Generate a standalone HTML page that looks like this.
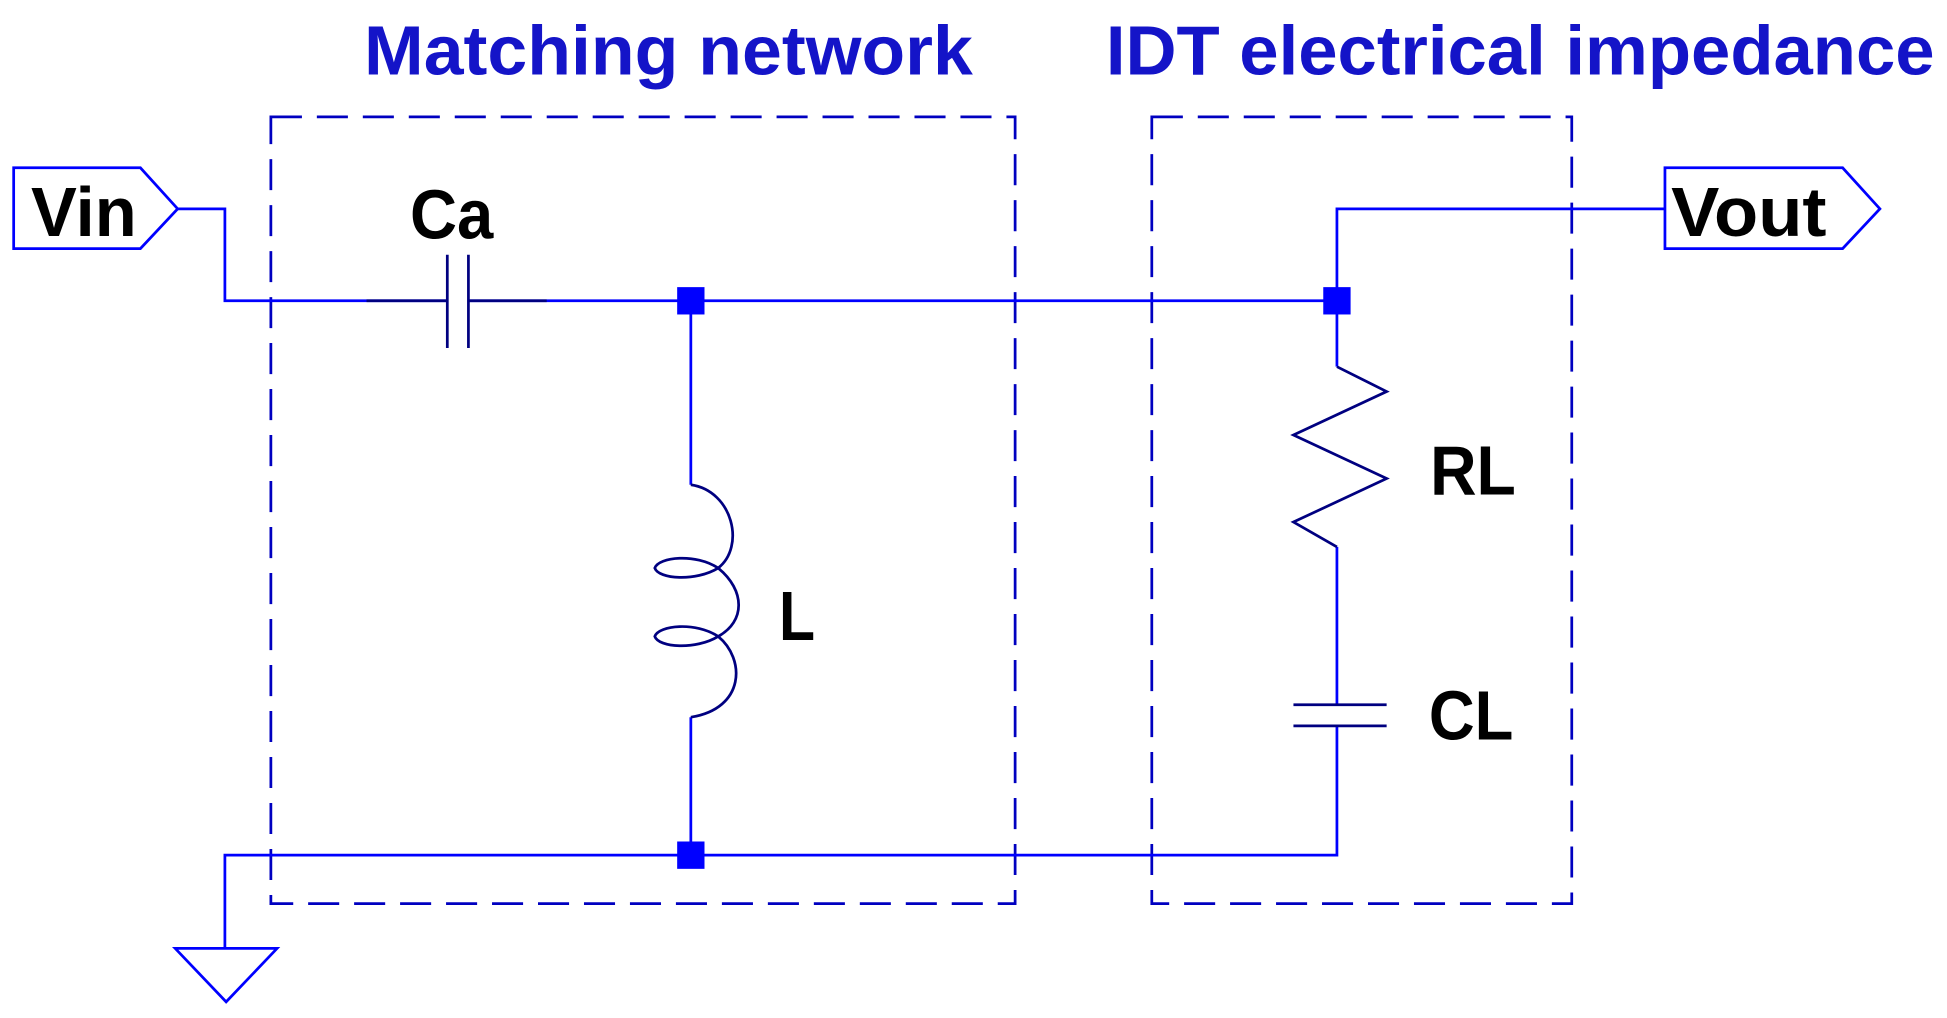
<!DOCTYPE html>
<html><head><style>
html,body{margin:0;padding:0;background:#fff;}
svg{display:block;}
text{font-family:"Liberation Sans",sans-serif;font-weight:bold;}
</style></head><body>
<svg width="1947" height="1018" viewBox="0 0 1567 819" preserveAspectRatio="none" xmlns="http://www.w3.org/2000/svg">
<text x="293" y="60" font-size="56" fill="#1414c8" textLength="490" lengthAdjust="spacingAndGlyphs">Matching network</text>
<text x="890" y="60" font-size="56" fill="#1414c8" textLength="667" lengthAdjust="spacingAndGlyphs">IDT electrical impedance</text>
<g fill="none" stroke="#0000c0" stroke-width="2.2" stroke-dasharray="25,12">
<rect x="218" y="94" width="599" height="633"/>
<rect x="927" y="94" width="338" height="633"/>
</g>
<g fill="none" stroke="#0000ff" stroke-width="2.2">
<polygon points="11,135 113,135 143,168 113,200 11,200"/>
<polygon points="1340,135 1483,135 1513,168 1483,200 1340,200"/>
<polyline points="143,168 181,168 181,242 360,242"/>
<line x1="377" y1="242" x2="1076" y2="242"/>
<polyline points="1076,242 1076,168 1340,168"/>
<line x1="556" y1="242" x2="556" y2="390"/>
<line x1="556" y1="577" x2="556" y2="688"/>
<line x1="1076" y1="242" x2="1076" y2="295"/>
<line x1="1076" y1="440" x2="1076" y2="567"/>
<polyline points="1076,584 1076,688 181,688 181,763"/>
<polygon points="141,763 223,763 182,806"/>
</g>
<g fill="none" stroke="#000080" stroke-width="2.2">
<line x1="360" y1="205" x2="360" y2="280"/>
<line x1="377" y1="205" x2="377" y2="280"/>
<line x1="295" y1="242" x2="360" y2="242"/>
<line x1="377" y1="242" x2="440" y2="242"/>
<path d="M556,390 C590,395 600,440 578,457 C600,475 600,500 578,512 C600,530 600,570 556,577"/>
<path d="M578,457 C560,445 530,448 527,457 C530,466 560,468 578,457 Z"/>
<path d="M578,512 C560,500 530,503 527,512 C530,521 560,523 578,512 Z"/>
<polyline points="1076,295 1116,315 1041,350 1116,385 1041,420 1076,440"/>
<line x1="1041" y1="567" x2="1116" y2="567"/>
<line x1="1041" y1="584" x2="1116" y2="584"/>
</g>
<g fill="#0000ff">
<rect x="545" y="231" width="22" height="22"/>
<rect x="1065" y="231" width="22" height="22"/>
<rect x="545" y="677" width="22" height="22"/>
</g>
<g fill="#000" font-size="56">
<text x="25" y="190" textLength="85" lengthAdjust="spacingAndGlyphs">Vin</text>
<text x="1345" y="190" textLength="125" lengthAdjust="spacingAndGlyphs">Vout</text>
<text x="330" y="192" textLength="67" lengthAdjust="spacingAndGlyphs">Ca</text>
<text x="627" y="515" textLength="29" lengthAdjust="spacingAndGlyphs">L</text>
<text x="1151" y="398" textLength="69" lengthAdjust="spacingAndGlyphs">RL</text>
<text x="1150" y="595" textLength="68" lengthAdjust="spacingAndGlyphs">CL</text>
</g>
</svg>
</body></html>
